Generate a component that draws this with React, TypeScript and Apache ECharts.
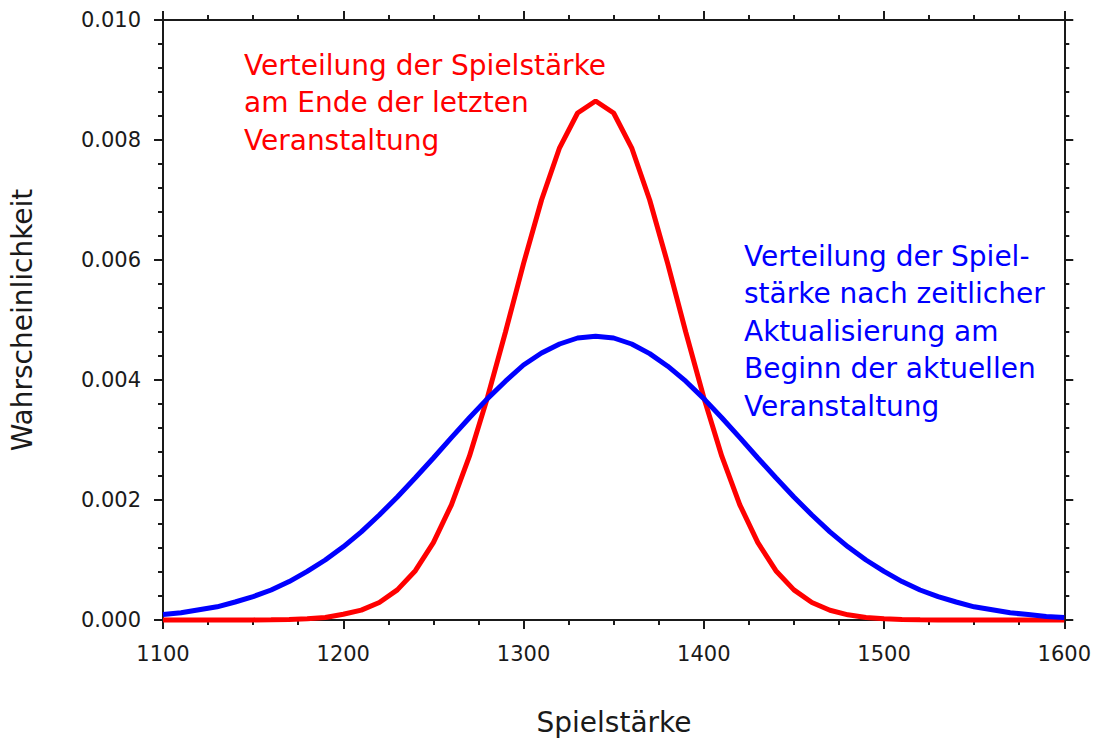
import React, { useEffect, useRef } from "react";
import * as echarts from "echarts";

const xValues = [
  1100, 1110, 1120, 1130, 1140, 1150, 1160, 1170, 1180, 1190,
  1200, 1210, 1220, 1230, 1240, 1250, 1260, 1270, 1280, 1290,
  1300, 1310, 1320, 1330, 1340, 1350, 1360, 1370, 1380, 1390,
  1400, 1410, 1420, 1430, 1440, 1450, 1460, 1470, 1480, 1490,
  1500, 1510, 1520, 1530, 1540, 1550, 1560, 1570, 1580, 1590, 1600,
];

const redValues = [
  0, 0, 0.0000001, 0.0000003, 0.0000007, 0.0000018, 0.0000042, 0.0000096, 0.000021, 0.000043,
  0.000095, 0.000165, 0.000292, 0.000502, 0.000822, 0.00129, 0.00192, 0.00273, 0.00371, 0.0048,
  0.00594, 0.007, 0.00787, 0.00845, 0.00865, 0.00845, 0.00787, 0.007, 0.00594, 0.0048,
  0.00371, 0.00273, 0.00192, 0.00129, 0.000822, 0.000502, 0.000292, 0.000162, 0.000086, 0.000043,
  0.000021, 0.0000096, 0.0000042, 0.0000018, 0.0000007, 0.0000003, 0.0000001, 0, 0, 0, 0,
];

const blueValues = [
  0.00009, 0.00012, 0.00017, 0.00022, 0.0003, 0.00039, 0.0005, 0.00064, 0.00081, 0.001,
  0.00122, 0.00147, 0.00175, 0.00205, 0.00237, 0.0027, 0.00304, 0.00337, 0.00369, 0.00398,
  0.00425, 0.00445, 0.0046, 0.0047, 0.00473, 0.0047, 0.0046, 0.00444, 0.00423, 0.00398,
  0.00369, 0.00337, 0.00304, 0.0027, 0.00237, 0.00205, 0.00175, 0.00147, 0.00122, 0.001,
  0.00081, 0.00064, 0.0005, 0.00039, 0.0003, 0.00022, 0.00017, 0.00012, 0.00009, 0.00006, 0.00004,
];

const xTitle = "Spielstärke";
const yTitle = "Wahrscheinlichkeit";
const redNote = ["Verteilung der Spielstärke", "am Ende der letzten", "Veranstaltung"];
const blueNote = [
  "Verteilung der Spiel-",
  "stärke nach zeitlicher",
  "Aktualisierung am",
  "Beginn der aktuellen",
  "Veranstaltung",
];

const FONT = "DejaVu Sans";
const AXIS_COLOR = "#1a1a1a";

function axisCommon(showLabel: boolean, isY: boolean, pos: string) {
  return {
    type: "value",
    position: pos,
    min: isY ? 0 : 1100,
    max: isY ? 0.01 : 1600,
    interval: isY ? 0.002 : 100,
    axisLine: { show: true, onZero: false, lineStyle: { color: AXIS_COLOR, width: 2 } },
    axisTick: { show: true, inside: false, length: 9, lineStyle: { color: AXIS_COLOR, width: 2 } },
    minorTick: {
      show: true,
      splitNumber: isY ? 5 : 4,
      length: 5,
      lineStyle: { color: AXIS_COLOR, width: 2 },
    },
    splitLine: { show: false },
    minorSplitLine: { show: false },
    axisLabel: {
      show: showLabel,
      fontFamily: FONT,
      fontSize: 21,
      color: AXIS_COLOR,
      margin: isY ? 22 : 23,
      formatter: isY ? (v: number) => v.toFixed(3) : (v: number) => String(v),
    },
  };
}

export default function App() {
  const ref = useRef<HTMLDivElement>(null);
  useEffect(() => {
    if (!ref.current) return;
    const chart = echarts.init(ref.current, null, { renderer: "svg" });
    const texts: any[] = [];
    redNote.forEach((t, i) => {
      texts.push({
        type: "text",
        left: 244,
        top: 65 + i * 37.5,
        style: {
          text: t,
          fill: "#ff0000",
          font: `28px '${FONT}'`,
          textVerticalAlign: "middle",
        },
      });
    });
    blueNote.forEach((t, i) => {
      texts.push({
        type: "text",
        x: 744,
        y: 256 + i * 37.5,
        style: {
          text: t,
          fill: "#0000ff",
          font: `28px '${FONT}'`,
          textVerticalAlign: "middle",
        },
      });
    });
    texts.forEach((t) => {
      if (t.left !== undefined) {
        t.x = t.left;
        t.y = t.top;
        delete t.left;
        delete t.top;
      }
    });
    texts.push({
      type: "text",
      x: 614,
      y: 722,
      style: {
        text: xTitle,
        fill: AXIS_COLOR,
        font: `28px '${FONT}'`,
        textAlign: "center",
        textVerticalAlign: "middle",
      },
    });
    texts.push({
      type: "text",
      x: 22,
      y: 320,
      rotation: Math.PI / 2,
      style: {
        text: yTitle,
        fill: AXIS_COLOR,
        font: `28px '${FONT}'`,
        textAlign: "center",
        textVerticalAlign: "middle",
      },
    });

    chart.setOption({
      animation: false,
      backgroundColor: "#ffffff",
      grid: { left: 163, right: 29, top: 20, bottom: 126, containLabel: false },
      xAxis: [axisCommon(true, false, "bottom"), axisCommon(false, false, "top")],
      yAxis: [axisCommon(true, true, "left"), axisCommon(false, true, "right")],
      series: [
        {
          type: "line",
          xAxisIndex: 0,
          yAxisIndex: 0,
          data: xValues.map((x, i) => [x, redValues[i]]),
          showSymbol: false,
          symbol: "none",
          lineStyle: { color: "#ff0000", width: 5 },
          clip: false,
        },
        {
          type: "line",
          xAxisIndex: 0,
          yAxisIndex: 0,
          data: xValues.map((x, i) => [x, blueValues[i]]),
          showSymbol: false,
          symbol: "none",
          lineStyle: { color: "#0000ff", width: 5 },
          clip: false,
        },
      ],
      graphic: texts,
    });
    return () => chart.dispose();
  }, []);
  return (
    <div
      ref={ref}
      style={{ position: "fixed", left: 0, top: 0, width: 1094, height: 746, background: "#fff" }}
    />
  );
}
